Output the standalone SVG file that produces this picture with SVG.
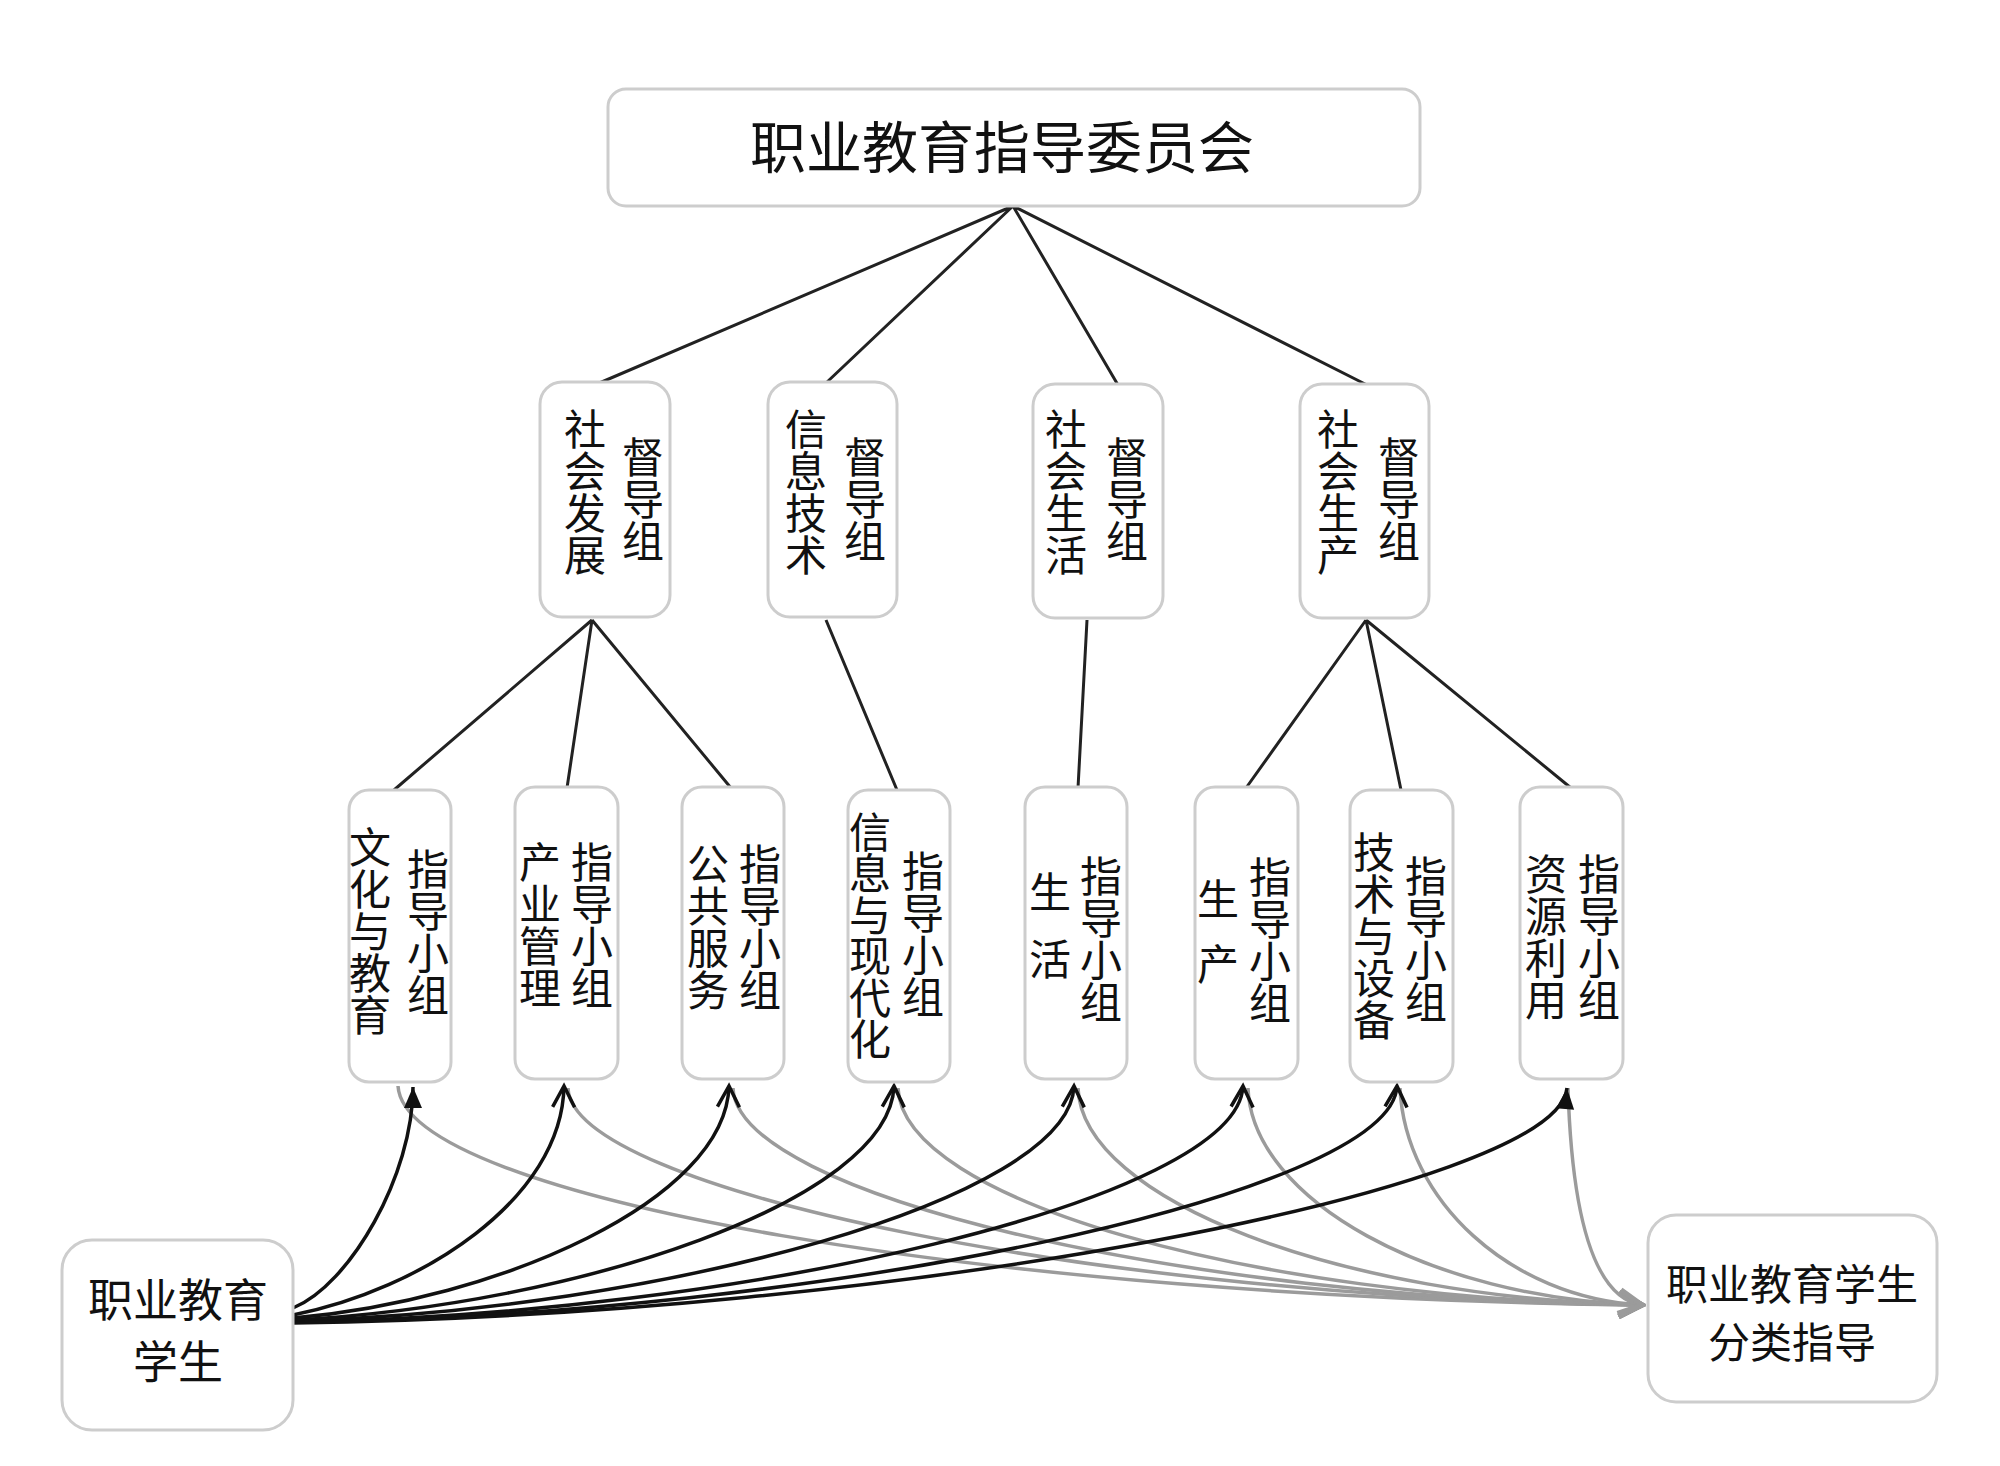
<svg xmlns="http://www.w3.org/2000/svg" width="2000" height="1466" viewBox="0 0 2000 1466">
<style>
.box{fill:#fff;stroke:#cdcdcd;stroke-width:3}
.t{font-family:"Noto Sans CJK SC","Noto Sans CJK JP",sans-serif;fill:#111;text-anchor:middle}
.v{font-size:42px;writing-mode:vertical-rl;text-orientation:upright;text-anchor:start}
.ln{stroke:#222;stroke-width:3;fill:none}
.bk{stroke:#111;stroke-width:3.5;fill:none}
.gr{stroke:#9b9b9b;stroke-width:3.5;fill:none}
</style>
<defs>
<marker id="arrowOpen" markerUnits="userSpaceOnUse" markerWidth="30" markerHeight="30" viewBox="0 0 30 30" refX="26" refY="15" orient="auto">
<path d="M5,4 L26,15 L5,26" fill="none" stroke="#111" stroke-width="3.5"/>
</marker>
<marker id="arrowFill" markerUnits="userSpaceOnUse" markerWidth="30" markerHeight="30" viewBox="0 0 30 30" refX="26" refY="15" orient="auto">
<path d="M5,6 L26,15 L5,24 Z" fill="#111"/>
</marker>
<marker id="arrowGray" markerUnits="userSpaceOnUse" markerWidth="36" markerHeight="36" viewBox="0 0 36 36" refX="32" refY="18" orient="auto">
<path d="M9,6 L32,18 L9,30" fill="none" stroke="#9b9b9b" stroke-width="5"/>
</marker>
</defs>
<rect width="2000" height="1466" fill="#fff"/>

<g id="connectors">
<path class="ln" d="M1013,206 L597,384 M1013,206 L826,383 M1013,206 L1118,385 M1013,206 L1367,385"/>
<path class="ln" d="M592,620 L394,790 M592,620 L567,788 M592,620 L731,788 M826,620 L897,790 M1087,620 L1078,788 M1366,620 L1246,788 M1366,620 L1401,790 M1366,620 L1571,788"/>
<path class="gr" marker-end="url(#arrowGray)" d="M398,1086 C405,1200 1000,1298 1642,1305"/>
<path class="gr" marker-end="url(#arrowGray)" d="M568,1088 C572,1190 1100,1298 1642,1305"/>
<path class="gr" marker-end="url(#arrowGray)" d="M733,1088 C737,1195 1180,1298 1642,1305"/>
<path class="gr" marker-end="url(#arrowGray)" d="M898,1088 C902,1200 1250,1298 1642,1305"/>
<path class="gr" marker-end="url(#arrowGray)" d="M1078,1088 C1082,1200 1340,1298 1642,1305"/>
<path class="gr" marker-end="url(#arrowGray)" d="M1248,1088 C1252,1200 1430,1298 1642,1305"/>
<path class="gr" marker-end="url(#arrowGray)" d="M1400,1088 C1405,1200 1510,1298 1642,1305"/>
<path class="gr" marker-end="url(#arrowGray)" d="M1568,1088 C1572,1220 1595,1298 1642,1305"/>
<path class="bk" marker-end="url(#arrowFill)" d="M293,1308 C350,1285 413,1175 413,1087"/>
<path class="bk" marker-end="url(#arrowOpen)" d="M293,1315 C420,1290 562,1200 564,1086"/>
<path class="bk" marker-end="url(#arrowOpen)" d="M293,1318 C500,1300 726,1200 729,1086"/>
<path class="bk" marker-end="url(#arrowOpen)" d="M293,1320 C580,1305 890,1200 894,1086"/>
<path class="bk" marker-end="url(#arrowOpen)" d="M293,1321 C660,1310 1070,1200 1074,1086"/>
<path class="bk" marker-end="url(#arrowOpen)" d="M293,1322 C740,1315 1238,1200 1243,1086"/>
<path class="bk" marker-end="url(#arrowOpen)" d="M293,1322 C820,1316 1392,1195 1397,1086"/>
<path class="bk" marker-end="url(#arrowFill)" d="M293,1323 C900,1315 1558,1190 1567,1088"/>
</g>

<g id="committee">
<rect class="box" x="608" y="89" width="812" height="117" rx="18"/>
<text class="t" x="1002" y="168" font-size="56">职业教育指导委员会</text>
</g>

<g id="sup-social-dev">
<rect class="box" x="540" y="382" width="130" height="235" rx="22"/>
<text class="t v" x="585" y="408">社会发展</text>
<text class="t v" x="643" y="436">督导组</text>
</g>
<g id="sup-it">
<rect class="box" x="768" y="382" width="129" height="235" rx="22"/>
<text class="t v" x="806" y="408">信息技术</text>
<text class="t v" x="865" y="436">督导组</text>
</g>
<g id="sup-social-life">
<rect class="box" x="1033" y="384" width="130" height="234" rx="22"/>
<text class="t v" x="1066" y="408">社会生活</text>
<text class="t v" x="1127" y="436">督导组</text>
</g>
<g id="sup-social-prod">
<rect class="box" x="1300" y="384" width="129" height="234" rx="22"/>
<text class="t v" x="1338" y="408">社会生产</text>
<text class="t v" x="1399" y="436">督导组</text>
</g>

<g id="grp-culture">
<rect class="box" x="349" y="790" width="102" height="292" rx="20"/>
<text class="t v" x="370" y="826">文化与教育</text>
<text class="t v" x="428" y="848">指导小组</text>
</g>
<g id="grp-industry">
<rect class="box" x="515" y="787" width="103" height="292" rx="20"/>
<text class="t v" x="540" y="841">产业管理</text>
<text class="t v" x="592" y="841">指导小组</text>
</g>
<g id="grp-public">
<rect class="box" x="682" y="787" width="102" height="292" rx="20"/>
<text class="t v" x="708" y="843">公共服务</text>
<text class="t v" x="760" y="843">指导小组</text>
</g>
<g id="grp-info">
<rect class="box" x="848" y="790" width="102" height="292" rx="20"/>
<text class="t v" x="870" y="811" letter-spacing="-0.6">信息与现代化</text>
<text class="t v" x="923" y="850">指导小组</text>
</g>
<g id="grp-life">
<rect class="box" x="1025" y="787" width="102" height="292" rx="20"/>
<text class="t v" x="1050" y="871" letter-spacing="25">生活</text>
<text class="t v" x="1101" y="855">指导小组</text>
</g>
<g id="grp-production">
<rect class="box" x="1195" y="787" width="103" height="292" rx="20"/>
<text class="t v" x="1218" y="878" letter-spacing="23">生产</text>
<text class="t v" x="1270" y="856">指导小组</text>
</g>
<g id="grp-tech">
<rect class="box" x="1350" y="790" width="103" height="292" rx="20"/>
<text class="t v" x="1374" y="831">技术与设备</text>
<text class="t v" x="1426" y="855">指导小组</text>
</g>
<g id="grp-resource">
<rect class="box" x="1520" y="787" width="103" height="292" rx="20"/>
<text class="t v" x="1546" y="853">资源利用</text>
<text class="t v" x="1599" y="853">指导小组</text>
</g>

<g id="students">
<rect class="box" x="62" y="1240" width="231" height="190" rx="30"/>
<text class="t" font-size="45" x="178" y="1317">职业教育</text>
<text class="t" font-size="45" x="178" y="1379">学生</text>
</g>
<g id="guidance">
<rect class="box" x="1648" y="1215" width="289" height="187" rx="28"/>
<text class="t" font-size="42" x="1792" y="1300">职业教育学生</text>
<text class="t" font-size="42" x="1792" y="1358">分类指导</text>
</g>
</svg>
